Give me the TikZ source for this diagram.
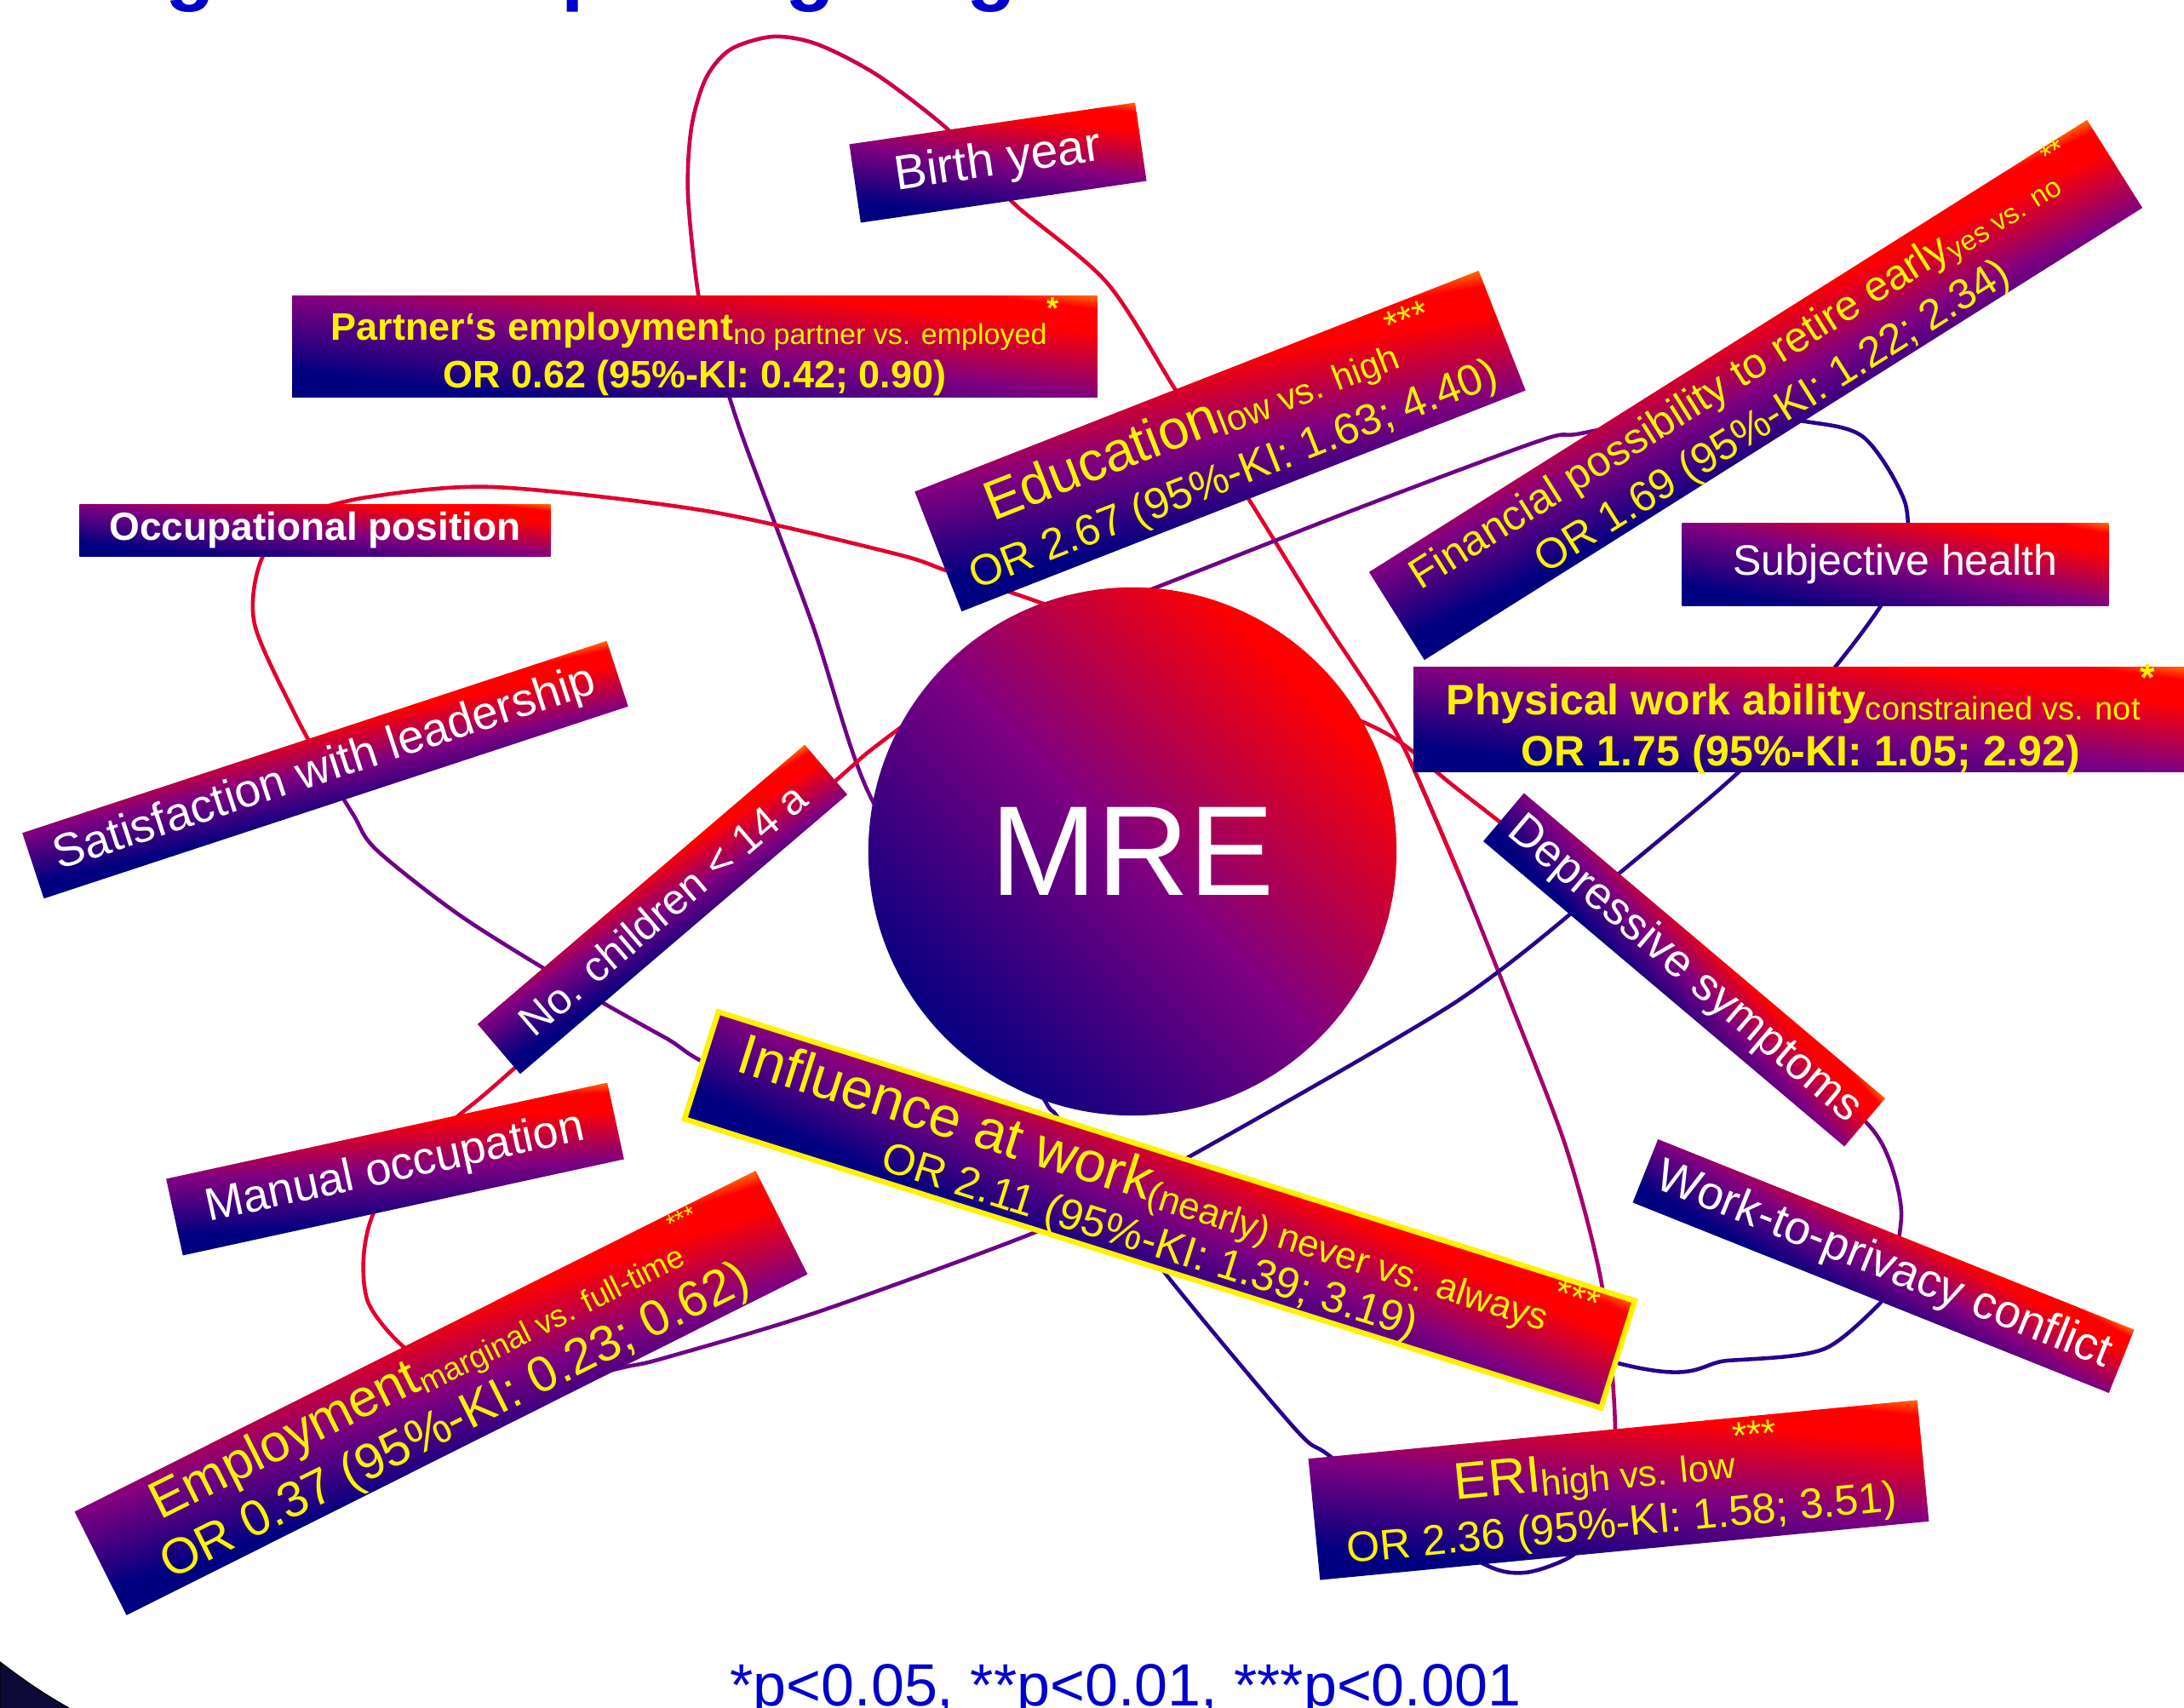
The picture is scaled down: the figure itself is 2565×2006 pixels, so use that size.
\documentclass[tikz,border=0pt]{standalone}
\usepackage{fontspec}
\setmainfont{Liberation Sans}

\definecolor{bnavy}{RGB}{0,0,128}
\definecolor{bpurple}{RGB}{128,0,128}
\definecolor{bred}{RGB}{255,0,0}
\definecolor{borange}{RGB}{255,140,0}
\definecolor{oRed}{RGB}{225,0,45}
\definecolor{oCrim}{RGB}{205,0,70}
\definecolor{oMag}{RGB}{165,0,105}
\definecolor{oPur}{RGB}{110,0,135}
\definecolor{oNavy}{RGB}{40,0,140}
\definecolor{titleblue}{RGB}{0,0,204}
\definecolor{darkcorner}{RGB}{14,10,55}

\pgfdeclareverticalshading{boxgrad}{100bp}{color(0bp)=(bnavy); color(24bp)=(bnavy); color(50bp)=(bpurple); color(73bp)=(bred); color(81bp)=(bred); color(87bp)=(borange); color(100bp)=(borange)}

\newcommand\fsz[2]{\fontsize{#1cm}{#2cm}\selectfont}
\newcommand\subtx[2]{\raisebox{-0.12em}{\fsz{#1}{#1}#2}}
\newcommand\suptx[2]{\raisebox{0.55em}{\fsz{#1}{#1}#2}}
% shaded box: centre x, centre y, width (cm), height (cm), angle
\newcommand\gradbox[5]{\shade[shading=boxgrad, shading angle=-45, transform canvas={shift={(#1,#2)}, rotate=#5, xscale=#3, yscale=#4}] (-0.5cm,-0.5cm) rectangle (0.5cm,0.5cm);}

\begin{document}
\begin{tikzpicture}[x=0.01cm, y=-0.01cm,
  lbl/.style={inner sep=0pt, align=center},
  orb/.style={line width=1.3pt}]
\useasboundingbox (0,0) rectangle (2565,2006);

% cut title and slide corner
\foreach \gx/\gl [count=\i] in {224/g,689/p,952/g,1165/g}
  \node[anchor=base, inner sep=0pt, text=titleblue, font=\bfseries\fsz{0.95}{0.95}] (title\i) at (\gx,-5) {\gl};
\fill[darkcorner, draw=black, line width=0.4pt] (0,1952) .. controls (30,1975) and (55,1992) .. (88,2010) -- (0,2010) -- cycle;

% tall orbit
\draw[orb, oRed] plot[smooth] coordinates {(1150,195) (1194,242) (1300,332) (1380,457) (1423,522)};
\draw[orb, oMag] plot[smooth] coordinates {(1656,893) (1715,1030) (1775,1180) (1840,1350) (1882,1513) (1897,1680) (1885,1790)};
\draw[orb, oRed] plot[smooth] coordinates {(1423,522) (1467,587) (1554,727) (1620,827) (1656,893) (1715,1030)};
\draw[orb, oNavy] plot[smooth] coordinates {(1885,1790) (1845,1828) (1791,1847) (1743,1837) (1650,1775) (1559,1708) (1520,1677) (1372,1500) (1300,1400)};
\draw[orb, oNavy] plot[smooth] coordinates {(1300,1400) (1242,1312) (1224,1287) (1130,1110)};
\draw[orb, oPur] plot[smooth] coordinates {(1130,1110) (1020,931) (954,733) (871,510) (840,410)};
\draw[orb, oCrim] plot[smooth] coordinates {(840,410) (821,351) (808,230) (812,150) (829,92) (858,58) (908,43) (960,52) (1030,88) (1111,150) (1150,195)};

% wide orbit
\draw[orb, oRed] plot[smooth] coordinates {(350,605) (431,584) (580,572) (829,600) (1050,650) (1111,670) (1191,697) (1234,712) (1430,780)};
\draw[orb, oRed] plot[smooth] coordinates {(1430,780) (1620,857) (1716,930) (1960,1120)};
\draw[orb, oPur] plot[smooth] coordinates {(1960,1120) (2150,1280) (2209,1341) (2233,1423) (2217,1521)};
\draw[orb, oNavy] plot[smooth] coordinates {(2217,1521) (2143,1584) (2029,1598) (1904,1602) (1360,1435)};
\draw[orb, oPur] plot[smooth] coordinates {(1360,1435) (880,1270) (780,1218) (660,1150) (540,1075) (442,998) (415,957) (380,900)};
\draw[orb, oRed] plot[smooth] coordinates {(380,900) (348,842) (299,733) (307,657) (350,605)};

% slanted orbit
\draw[orb, oPur] plot[smooth] coordinates {(1200,750) (1350,693) (1600,595) (1810,517) (1857,509) (2000,480)};
\draw[orb, oNavy] plot[smooth] coordinates {(2000,480) (2114,494) (2188,513) (2237,589) (2240,660)};
\draw[orb, oNavy] plot[smooth] coordinates {(2240,660) (2206,716) (2166,770) (2100,850) (2016,930) (1860,1060)};
\draw[orb, oNavy] plot[smooth] coordinates {(1860,1060) (1705,1180) (1394,1360) (1300,1405)};
\draw[orb, oPur] plot[smooth] coordinates {(1300,1405) (1209,1450) (960,1541) (780,1595) (732,1606) (640,1628)};
\draw[orb, oRed] plot[smooth] coordinates {(640,1628) (540,1625) (473,1581) (433,1531) (427,1477) (439,1424) (480,1360) (540,1309) (589,1268) (800,1080) (987,912) (1041,867) (1200,750)};

% plain factors
\foreach \nm/\x/\y/\w/\h/\a/\sz/\txt in {
  birth/1172/191/3.39/0.93/8.3/0.57/Birth year,
  occ/370/623/5.53/0.61/0/0.46/{\bfseries Occupational position},
  subj/2226/663/5.01/0.97/0/0.5/Subjective health,
  satis/382/904/7.22/0.81/18.2/0.55/Satisfaction with leadership,
  nochild/778/1068/5.05/0.77/40.5/0.5/No. children < 14 a,
  depr/1978/1139/5.55/0.74/-40.2/0.535/Depressive symptoms,
  manual/464/1373/5.3/0.92/12.3/0.54/Manual occupation,
  work/2212/1487/6.02/0.8/-21.8/0.55/Work-to-privacy conflict}
  {
  \gradbox{\x}{\y}{\w}{\h}{\a}
  \node[lbl, text=white, font=\fsz{\sz}{\sz}, minimum width=\w cm, minimum height=\h cm, rotate=\a] (\nm) at (\x,\y) {\txt};
  }

% significant factors
\gradbox{816}{407}{9.45}{1.18}{0}
\node[lbl, text=yellow, font=\bfseries\fsz{0.45}{0.56}, minimum width=9.45cm, minimum height=1.18cm] (partner) at (816,407)
  {Partner‘s employment\subtx{0.34}{\mdseries no partner vs. employed}\suptx{0.36}{*}\\OR 0.62 (95\%-KI: 0.42; 0.90)};
\gradbox{1433}{518}{7.11}{1.51}{21.4}
\node[lbl, text=yellow, font=\fsz{0.51}{0.68}, minimum width=7.11cm, minimum height=1.51cm, rotate=21.4] (edu) at (1433,518)
  {{\fsz{0.65}{0.65}Education}\subtx{0.42}{low vs. high}\suptx{0.45}{***}\\OR 2.67 (95\%-KI: 1.63; 4.40)};
\gradbox{2062}{458}{9.96}{1.22}{32.2}
\node[lbl, text=yellow, font=\fsz{0.5}{0.62}, minimum width=9.96cm, minimum height=1.22cm, rotate=32.2] (fin) at (2062,458)
  {Financial possibility to retire early\subtx{0.33}{yes vs. no}\suptx{0.36}{**}\\OR 1.69 (95\%-KI: 1.22; 2.34)};
\gradbox{2115}{845}{9.09}{1.23}{0}
\node[lbl, text=yellow, font=\bfseries\fsz{0.5}{0.6}, minimum width=9.09cm, minimum height=1.23cm] (phys) at (2115,845)
  {Physical work ability\subtx{0.38}{\mdseries constrained vs. not}\suptx{0.45}{*}\\OR 1.75 (95\%-KI: 1.05; 2.92)};
\gradbox{518}{1636}{8.94}{1.36}{26.6}
\node[lbl, text=yellow, font=\fsz{0.59}{0.68}, minimum width=8.94cm, minimum height=1.36cm, rotate=26.6] (emp) at (518,1636)
  {{\fsz{0.62}{0.62}Employment}\subtx{0.37}{marginal vs. full-time}\suptx{0.3}{***}\\OR 0.37 (95\%-KI: 0.23; 0.62)};
\gradbox{1362}{1421}{11.28}{1.32}{-17.5}
\node[lbl, text=yellow, draw=yellow, line width=1.8pt, font=\fsz{0.51}{0.6}, minimum width=11.28cm, minimum height=1.32cm, rotate=-17.5] (infl) at (1362,1421)
  {{\fsz{0.67}{0.67}Influence at work}\subtx{0.44}{(nearly) never vs. always}\suptx{0.45}{***}\\OR 2.11 (95\%-KI: 1.39; 3.19)};
\gradbox{1901}{1750}{7.18}{1.43}{5.5}
\node[lbl, text=yellow, font=\fsz{0.5}{0.62}, minimum width=7.18cm, minimum height=1.43cm, rotate=5.5] (eri) at (1901,1750)
  {{\fsz{0.61}{0.61}ERI}\subtx{0.43}{high vs. low}\suptx{0.45}{***}\\OR 2.36 (95\%-KI: 1.58; 3.51)};

\node[lbl, circle, shade, shading=boxgrad, shading angle=-45, minimum size=6.2cm, text=white, font=\fsz{1.5}{1.5}] (mre) at (1330,1000) {MRE};

\node[anchor=base, inner sep=0pt, text=titleblue, font=\fsz{0.7}{0.7}] (pnote) at (1322,2003) {*p<0.05, **p<0.01, ***p<0.001};
\end{tikzpicture}
\end{document}
